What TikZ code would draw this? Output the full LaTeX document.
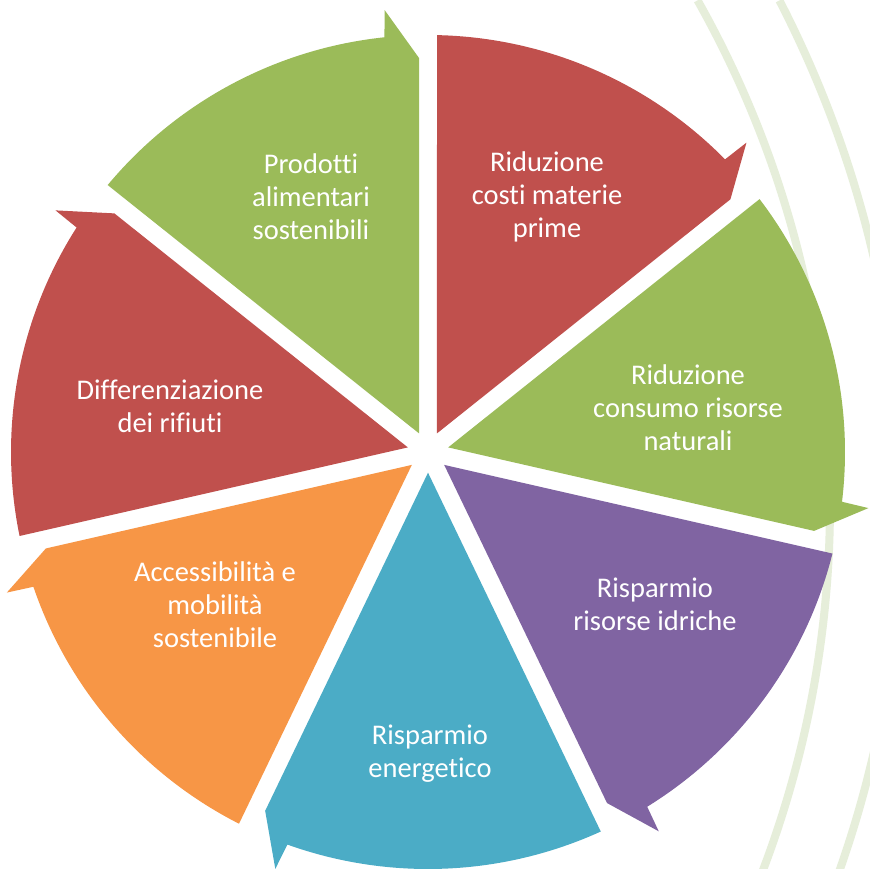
\documentclass[tikz,border=0pt]{standalone}
\usepackage{fontspec}
\setmainfont{Carlito}[Ligatures={NoCommon}]
\usetikzlibrary{calc}
\definecolor{cred}{HTML}{C0504D}
\definecolor{cgreen}{HTML}{9BBB59}
\definecolor{cpurple}{HTML}{8064A2}
\definecolor{cblue}{HTML}{4BACC6}
\definecolor{corange}{HTML}{F79646}
\definecolor{swoosh}{HTML}{E6EEDA}
\begin{document}
\begin{tikzpicture}[x=1pt,y=1pt,
  seglabel/.style={text=white, align=center, font=\fontsize{28.5}{33}\selectfont, inner sep=0pt},
  swooshline/.style={draw=swoosh, line width=8pt}]
\useasboundingbox (0,0) rectangle (869,-869);
\fill[white] (0,0) rectangle (869,-869);
\coordinate (C) at (428,-452);
\coordinate (S) at (-198,-505);
% background swooshes
\draw[swooshline] ($(S)+(29.4:1028)$) arc[start angle=29.4, end angle=-25, radius=1028];
\draw[swooshline] ($(S)+(27.3:1100)$) arc[start angle=27.3, end angle=-25, radius=1100];
% segments
\foreach \s/\col in {141.4286/cgreen, 90/cred, 38.5714/cgreen, -12.8571/cpurple, -64.2857/cblue, -115.7143/corange, -167.1429/cred}{
  \pgfmathsetmacro\e{\s-51.4286}
  \pgfmathsetmacro\m{\s-25.7143}
  \pgfmathsetmacro\a{\s-1.237}
  \pgfmathsetmacro\b{\e+6}
  \fill[\col] ($(C)+(\m:20.7)$) -- ($(C)+(\a:417)$)
     arc[start angle=\a, end angle=\b, radius=417]
     -- ($(C)+(\e+5.6:444)$) -- ($(C)+(\e:394)+(\e+90:9)$) -- cycle;
}
% labels
\node[seglabel] (t1) at (311,-197) {Prodotti\\alimentari\\sostenibili};
\node[seglabel] (t2) at (547,-197) {Riduzione\\costi materie\\prime};
\node[seglabel] (t3) at (688,-408) {Riduzione\\consumo risorse\\naturali};
\node[seglabel] (t4) at (655,-604) {Risparmio\\risorse idriche};
\node[seglabel] (t5) at (430,-754) {Risparmio\\energetico};
\node[seglabel] (t6) at (215,-605) {Accessibilità e\\mobilità\\sostenibile};
\node[seglabel] (t7) at (170,-406) {Differenziazione\\dei rifiuti};
\end{tikzpicture}
\end{document}
